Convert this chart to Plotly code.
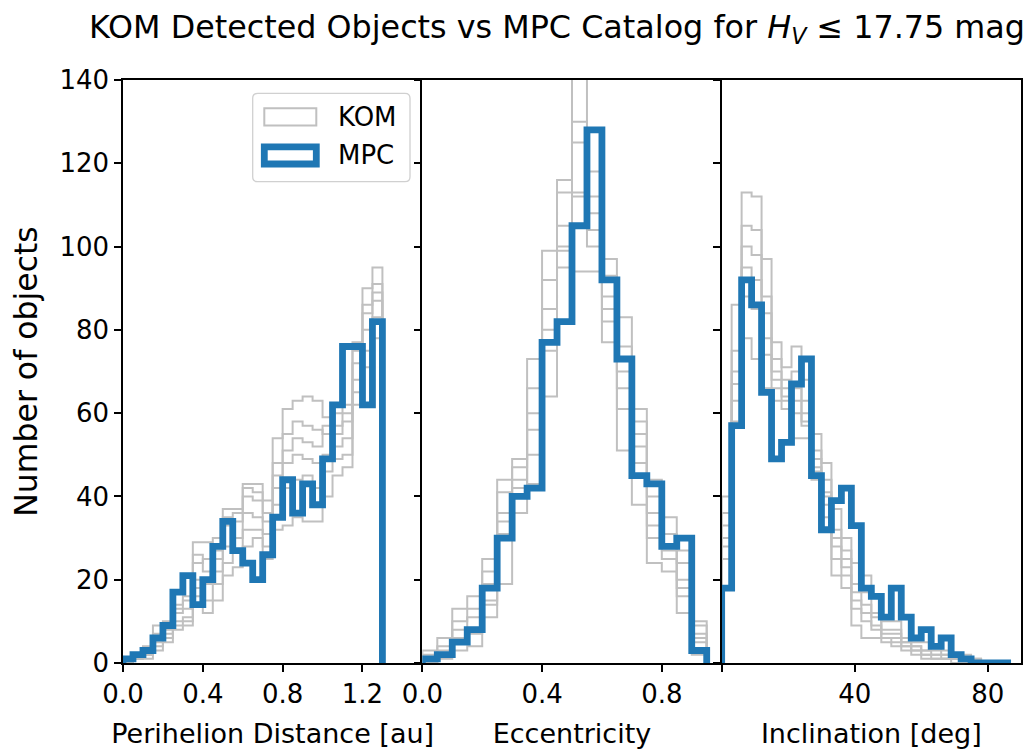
import numpy as np
import plotly.graph_objects as go

# ---------------- data ----------------
# bin layout (start, width, count) for each panel
Q_BINS = (0.0, 0.05, 26)     # perihelion distance [au]
E_BINS = (0.0, 0.05, 19)     # eccentricity
I_BINS = (0.0, 3.0, 29)      # inclination [deg]

# MPC catalog counts per bin
mpc_q = [1, 2, 3, 6, 9, 17, 21, 14, 20, 28, 34, 27, 24, 20, 26, 35, 44, 36, 43, 38, 49, 62, 76, 76, 62, 82]
mpc_e = [1, 2, 5, 8, 18, 30, 40, 42, 77, 82, 105, 128, 92, 73, 45, 43, 28, 30, 3]
mpc_i = [18, 57, 92, 86, 65, 49, 53, 67, 73, 45, 32, 39, 42, 33, 18, 16, 11, 18, 11, 6, 8, 4, 6, 2, 1, 0, 0, 0, 0]

# KOM detected counts per bin, one tuple per bin (6 simulated surveys)
kom_q = [
    (1, 1, 0, 0, 1, 0), (2, 1, 2, 1, 1, 2), (4, 3, 2, 1, 3, 2), (9, 7, 5, 3, 6, 4),
    (10, 8, 6, 5, 9, 7), (14, 12, 10, 8, 13, 9), (16, 13, 11, 9, 15, 10), (29, 24, 20, 16, 26, 18),
    (29, 25, 19, 12, 22, 15), (30, 27, 22, 15, 25, 19), (37, 33, 28, 21, 35, 24), (37, 34, 30, 23, 36, 27),
    (43, 40, 36, 28, 42, 32), (43, 39, 35, 30, 41, 32), (39, 36, 31, 25, 34, 28), (54, 48, 42, 32, 45, 38),
    (61, 55, 48, 33, 51, 42), (63, 58, 50, 35, 54, 44), (64, 57, 49, 34, 53, 45), (63, 56, 48, 34, 52, 42),
    (59, 55, 50, 40, 57, 46), (60, 57, 52, 45, 55, 49), (62, 58, 54, 47, 60, 50), (77, 72, 68, 62, 75, 65),
    (90, 86, 80, 71, 84, 75), (95, 91, 87, 78, 89, 83),
]
kom_e = [
    (3, 1, 0, 2, 1, 0), (6, 3, 1, 4, 2, 2), (13, 8, 3, 10, 6, 5), (16, 11, 4, 13, 8, 7),
    (25, 19, 11, 22, 15, 14), (44, 36, 19, 41, 31, 34), (49, 44, 36, 47, 40, 42), (73, 60, 43, 66, 56, 50),
    (99, 85, 64, 92, 75, 80), (116, 105, 95, 113, 99, 100), (145, 125, 94, 130, 112, 113),
    (118, 112, 94, 108, 100, 104), (97, 88, 77, 93, 82, 85), (83, 70, 51, 76, 61, 66),
    (61, 55, 38, 58, 48, 52), (44, 36, 24, 40, 30, 33), (35, 28, 22, 31, 25, 27),
    (27, 20, 12, 24, 16, 18), (10, 7, 2, 9, 5, 6),
]
kom_i = [
    (40, 36, 25, 33, 28, 30), (86, 75, 58, 70, 63, 67), (113, 105, 78, 100, 88, 95), (112, 104, 73, 98, 85, 92),
    (97, 88, 66, 84, 74, 78), (77, 73, 63, 70, 66, 68), (71, 68, 61, 66, 63, 64), (76, 70, 54, 66, 60, 63),
    (68, 63, 54, 60, 57, 58), (55, 51, 44, 49, 46, 47), (48, 44, 35, 41, 38, 40), (37, 32, 21, 28, 25, 30),
    (30, 27, 18, 25, 21, 23), (24, 19, 9, 17, 13, 15), (21, 17, 6, 14, 10, 12), (16, 12, 6, 11, 8, 9),
    (10, 8, 5, 7, 6, 6), (10, 8, 4, 7, 5, 6), (6, 5, 3, 5, 4, 4), (5, 4, 2, 4, 3, 3),
    (5, 3, 1, 3, 2, 2), (4, 2, 1, 3, 2, 1), (3, 2, 1, 2, 1, 1), (2, 1, 0, 1, 1, 1),
    (2, 1, 0, 1, 0, 1), (1, 0, 0, 1, 0, 0), (0, 0, 0, 0, 0, 0), (0, 0, 0, 0, 0, 0), (0, 0, 0, 0, 0, 0),
]

x_titles = ["Perihelion Distance [au]", "Eccentricity", "Inclination [deg]"]
x_ranges = [(0, 1.5), (0, 1.0), (0, 90)]
x_tickvals = [[0.0, 0.4, 0.8, 1.2], [0.0, 0.4, 0.8], [40, 80]]
x_ticktext = [["0.0", "0.4", "0.8", "1.2"], ["0.0", "0.4", "0.8"], ["40", "80"]]
x_unlabeled_ticks = [[], [], [0]]
y_tickvals = [0, 20, 40, 60, 80, 100, 120, 140]
legend_labels = ["KOM", "MPC"]
title_text = "KOM Detected Objects vs MPC Catalog for <i>H</i><sub><i>V</i></sub> ≤ 17.75 mag"

# ---------------- style ----------------
# the page body adds an 8 px offset, so the figure is 8 px smaller and margins shifted
OFF = 8
W, H = 1032 - OFF, 751 - OFF
ML, MR, MT, MB = 123 - OFF, 11, 80 - OFF, 88
BLUE = "#1f77b4"
GREY = "#c0c0c0"
FONT = "DejaVu Sans"


def edges_of(b):
    start, width, n = b
    return [start + width * k for k in range(n + 1)]


def step_xy(edges, vals):
    xs, ys = [edges[0]], [0]
    for k, v in enumerate(vals):
        xs += [edges[k], edges[k + 1]]
        ys += [v, v]
    xs.append(edges[-1])
    ys.append(0)
    return xs, ys


fig = go.Figure()
panels = [(Q_BINS, mpc_q, kom_q), (E_BINS, mpc_e, kom_e), (I_BINS, mpc_i, kom_i)]
for p, (bins, mpc, kom) in enumerate(panels):
    ax = "" if p == 0 else str(p + 1)
    ed = edges_of(bins)
    for run in zip(*kom):
        xs, ys = step_xy(ed, list(run))
        fig.add_trace(go.Scatter(x=xs, y=ys, mode="lines", line=dict(color=GREY, width=2),
                                 xaxis="x" + ax, yaxis="y" + ax, showlegend=False, hoverinfo="skip"))
    xs, ys = step_xy(ed, mpc)
    fig.add_trace(go.Scatter(x=xs, y=ys, mode="lines", line=dict(color=BLUE, width=6.8),
                             xaxis="x" + ax, yaxis="y" + ax, showlegend=False, hoverinfo="skip"))

axis_common = dict(showline=True, linecolor="black", linewidth=1.5,
                   ticks="outside", ticklen=7, tickwidth=1.5, tickcolor="black",
                   showgrid=False, zeroline=False, automargin=False,
                   tickfont=dict(family=FONT, size=26, color="black"))
layout = dict(width=W, height=H, margin=dict(l=ML, r=MR, t=MT, b=MB, autoexpand=False),
              plot_bgcolor="white", paper_bgcolor="white", showlegend=False,
              font=dict(family=FONT, color="black"))
for p in range(3):
    ax = "" if p == 0 else str(p + 1)
    xa = dict(axis_common, domain=[p / 3, (p + 1) / 3], range=list(x_ranges[p]), mirror=True,
              tickmode="array", tickvals=x_tickvals[p], ticktext=x_ticktext[p],
              anchor="y" + ax,
              title=dict(text=x_titles[p], font=dict(family=FONT, size=27), standoff=16))
    if x_unlabeled_ticks[p]:
        xa["minor"] = dict(tickmode="array", tickvals=x_unlabeled_ticks[p], ticks="outside",
                           ticklen=7, tickwidth=1.5, tickcolor="black", showgrid=False)
    layout["xaxis" + ax] = xa
    layout["yaxis" + ax] = dict(axis_common, domain=[0, 1], range=[0, 140], anchor="x" + ax,
                                mirror=(p == 2),
                                tickmode="array", tickvals=y_tickvals,
                                showticklabels=(p == 0))
layout["yaxis"]["title"] = dict(text="Number of objects", font=dict(family=FONT, size=31.5), standoff=16)
layout["title"] = dict(text=title_text, font=dict(family=FONT, size=31.8, color="black"),
                       x=(557 - OFF) / W, xref="container", xanchor="center",
                       y=1 - (26.5 - OFF) / H, yref="container", yanchor="middle")
fig.update_layout(**layout)


# ---------------- legend (drawn inside first panel), positions in screen pixels ----------------
def px(x):
    return (x - OFF - ML) / (W - ML - MR)


def py(y):
    return (H - MB - (y - OFF)) / (H - MT - MB)


x0, x1, y0, y1, r = 252.7, 410.0, 93.3, 181.7, 5.0
path = (f"M {px(x0 + r)},{py(y0)} L {px(x1 - r)},{py(y0)} Q {px(x1)},{py(y0)} {px(x1)},{py(y0 + r)} "
        f"L {px(x1)},{py(y1 - r)} Q {px(x1)},{py(y1)} {px(x1 - r)},{py(y1)} "
        f"L {px(x0 + r)},{py(y1)} Q {px(x0)},{py(y1)} {px(x0)},{py(y1 - r)} "
        f"L {px(x0)},{py(y0 + r)} Q {px(x0)},{py(y0)} {px(x0 + r)},{py(y0)} Z")
fig.add_shape(type="path", path=path, xref="paper", yref="paper",
              line=dict(color="#d0d0d0", width=1.3), fillcolor="rgba(255,255,255,0.85)")
handle_styles = [(GREY, 2), (BLUE, 6.8)]
for k, (lab, (col, lw)) in enumerate(zip(legend_labels, handle_styles)):
    cy = 116.8 + 38.6 * k
    fig.add_shape(type="rect", xref="paper", yref="paper",
                  x0=px(264.3), x1=px(316.3), y0=py(cy - 8.6), y1=py(cy + 8.6),
                  line=dict(color=col, width=lw), fillcolor="rgba(0,0,0,0)")
    fig.add_annotation(text=lab, xref="paper", yref="paper", x=px(336), y=py(cy),
                       xanchor="left", yanchor="middle", showarrow=False,
                       font=dict(family=FONT, size=26, color="black"))

fig.write_html("out.html")
